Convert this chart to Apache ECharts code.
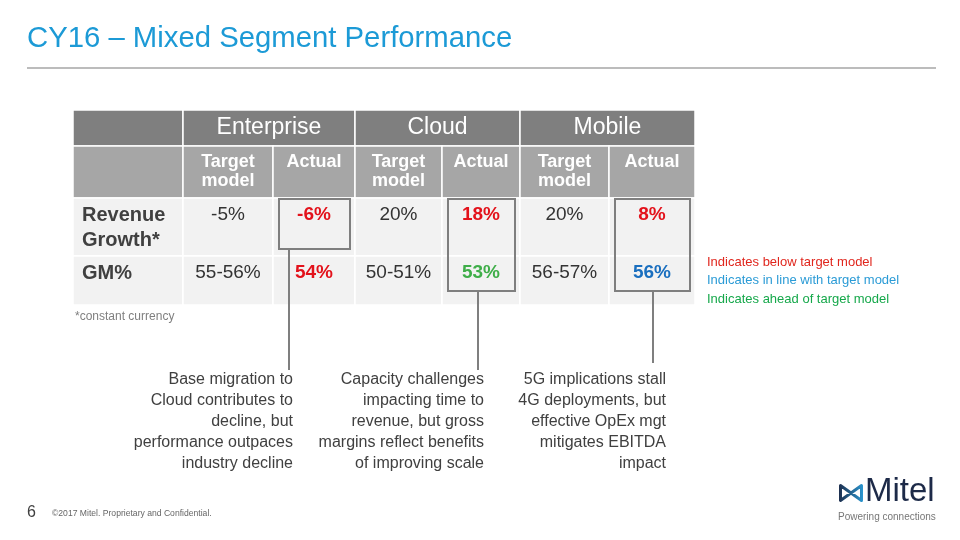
<!DOCTYPE html>
<html><head><meta charset="utf-8">
<script src="https://cdn.jsdelivr.net/npm/echarts@6/dist/echarts.min.js"></script>
<style>html,body{margin:0;padding:0;background:#fff}#c{width:960px;height:540px}</style>
</head><body><div id="c"></div>
<script>
// ---------- data ----------
const titleText = 'CY16 – Mixed Segment Performance';
const segments = ['Enterprise', 'Cloud', 'Mobile'];
const subHeaders = ['Target\nmodel', 'Actual'];
const metrics = ['Revenue\nGrowth*', 'GM%'];
const targetRevenue = ['-5%', '20%', '20%'];
const actualRevenue = ['-6%', '18%', '8%'];
const targetGM = ['55-56%', '50-51%', '56-57%'];
const actualGM = ['54%', '53%', '56%'];
const statusRevenue = ['below', 'below', 'below'];
const statusGM = ['below', 'ahead', 'inline'];
const highlightRows = [1, 2, 2];
const footnote = '*constant currency';
const legendOrder = ['below', 'inline', 'ahead'];
const legendLabels = ['Indicates below target model', 'Indicates in line with target model', 'Indicates ahead of target model'];
const callouts = [
  'Base migration to\nCloud contributes to\ndecline, but\nperformance outpaces\nindustry decline',
  'Capacity challenges\nimpacting time to\nrevenue, but gross\nmargins reflect benefits\nof improving scale',
  '5G implications stall\n4G deployments, but\neffective OpEx mgt\nmitigates EBITDA\nimpact'
];
const pageNumber = '6';
const copyright = '©2017 Mitel. Proprietary and Confidential.';
const brandName = 'Mitel';
const tagline = 'Powering connections';

// ---------- layout / style ----------
const FONT = '"Liberation Sans", Arial, Helvetica, sans-serif';
const colEdges = [73, 183, 273, 355, 442, 520, 609, 695];
const rowEdges = [110, 146, 198, 256, 305];
const calloutRight = [293, 484, 666];
const connectorX = [289, 478, 653];
const connectorEnd = [370, 370, 363];
const statusColor = { below: '#e3121b', inline: '#1a6fbf', ahead: '#3fae49' };
const legendColor = { below: '#e0261d', inline: '#2b9bd6', ahead: '#16a84b' };
const C = { dark: '#7f7f7f', mid: '#a6a6a6', light: '#f2f2f2', text: '#404040' };

// ---------- build table cells ----------
const cells = [];
cells.push({ c0: 0, c1: 1, r0: 0, r1: 1, fill: C.dark });
segments.forEach((s, i) => cells.push({ c0: 1 + 2 * i, c1: 3 + 2 * i, r0: 0, r1: 1, fill: C.dark, text: s, size: 23, weight: 'normal', color: '#fff', v: 'middle' }));
cells.push({ c0: 0, c1: 1, r0: 1, r1: 2, fill: C.mid });
segments.forEach((s, i) => subHeaders.forEach((h, j) => cells.push({ c0: 1 + 2 * i + j, c1: 2 + 2 * i + j, r0: 1, r1: 2, fill: C.mid, text: h, size: 18, weight: 'bold', color: '#fff', lh: 19, pad: 7 })));
const metricRows = [[targetRevenue, actualRevenue, statusRevenue], [targetGM, actualGM, statusGM]];
metricRows.forEach((r, k) => {
  cells.push({ c0: 0, c1: 1, r0: 2 + k, r1: 3 + k, fill: C.light, text: metrics[k], size: 20, weight: 'bold', color: C.text, align: 'left', lh: 25, pad: 4.5 });
  segments.forEach((s, i) => {
    cells.push({ c0: 1 + 2 * i, c1: 2 + 2 * i, r0: 2 + k, r1: 3 + k, fill: C.light, text: r[0][i], size: 19, weight: 'normal', color: '#333', lh: 22, pad: 6 });
    cells.push({ c0: 2 + 2 * i, c1: 3 + 2 * i, r0: 2 + k, r1: 3 + k, fill: C.light, text: r[1][i], size: 19, weight: 'bold', color: statusColor[r[2][i]], lh: 22, pad: 6 });
  });
});
const cellData = cells.map(c => [colEdges[c.c0], rowEdges[c.r0], colEdges[c.c1], rowEdges[c.r1]]);

const boxData = segments.map((s, i) => {
  const rows = highlightRows[i];
  return [colEdges[2 + 2 * i] + 6, rowEdges[2] + 1, colEdges[3 + 2 * i] - 5, rowEdges[2 + rows] - 7 * rows, connectorX[i], connectorEnd[i]];
});

function cellItem(params, api) {
  const c = cells[params.dataIndex];
  const p0 = api.coord([api.value(0), api.value(1)]);
  const p1 = api.coord([api.value(2), api.value(3)]);
  const children = [{
    type: 'rect',
    shape: { x: p0[0], y: p0[1], width: p1[0] - p0[0], height: p1[1] - p0[1] },
    style: { fill: c.fill, stroke: '#ffffff', lineWidth: 1.5 }
  }];
  if (c.text) {
    const left = c.align === 'left';
    children.push({
      type: 'text',
      x: left ? p0[0] + 9 : (p0[0] + p1[0]) / 2,
      y: c.v === 'middle' ? (p0[1] + p1[1]) / 2 : p0[1] + c.pad,
      style: {
        text: c.text, fill: c.color, fontSize: c.size, fontWeight: c.weight, fontFamily: FONT,
        align: left ? 'left' : 'center', verticalAlign: c.v === 'middle' ? 'middle' : 'top',
        lineHeight: c.lh || c.size
      }
    });
  }
  return { type: 'group', children };
}

function boxItem(params, api) {
  const p0 = api.coord([api.value(0), api.value(1)]);
  const p1 = api.coord([api.value(2), api.value(3)]);
  const pc = api.coord([api.value(4), api.value(5)]);
  return {
    type: 'group', children: [
      { type: 'rect', shape: { x: p0[0], y: p0[1], width: p1[0] - p0[0], height: p1[1] - p0[1] }, style: { fill: 'none', stroke: '#7f7f7f', lineWidth: 2 } },
      { type: 'line', shape: { x1: pc[0], y1: p1[1], x2: pc[0], y2: pc[1] }, style: { stroke: '#7f7f7f', lineWidth: 2 } }
    ]
  };
}

// ---------- graphics (texts) ----------
const logoGradient = { type: 'linear', x: 0, y: 0, x2: 1, y2: 0, colorStops: [{ offset: 0, color: '#1d2a48' }, { offset: 1, color: '#2b9bd6' }] };
const graphics = [
  { type: 'text', x: 27, y: 39, style: { text: titleText, fill: '#1c9ad6', fontSize: 29.3, fontFamily: FONT, verticalAlign: 'middle' } },
  { type: 'line', shape: { x1: 27, y1: 68, x2: 936, y2: 68 }, style: { stroke: '#a6a6a6', lineWidth: 1.5 } },
  { type: 'text', x: 75, y: 317, style: { text: footnote, fill: '#7f7f7f', fontSize: 12, fontFamily: FONT, verticalAlign: 'middle' } },
  { type: 'text', x: 27, y: 513, style: { text: pageNumber, fill: '#404040', fontSize: 16, fontFamily: FONT, verticalAlign: 'middle' } },
  { type: 'text', x: 52, y: 514, style: { text: copyright, fill: '#666666', fontSize: 8.6, fontFamily: FONT, verticalAlign: 'middle' } },
  { type: 'text', x: 865, y: 492, style: { text: brandName, fill: '#1d2a48', fontSize: 33, fontFamily: FONT, verticalAlign: 'middle' } },
  { type: 'text', x: 838, y: 517, style: { text: tagline, fill: '#777777', fontSize: 10, fontFamily: FONT, verticalAlign: 'middle' } },
  { type: 'polygon', shape: { points: [[840.5, 485.5], [851, 493], [861.5, 485.5], [861.5, 500.5], [851, 493], [840.5, 500.5]] },
    style: { fill: 'none', stroke: logoGradient, lineWidth: 3, lineJoin: 'round' } }
];
legendOrder.forEach((k, i) => graphics.push({ type: 'text', x: 707, y: 262 + i * 18.5, style: { text: legendLabels[i], fill: legendColor[k], fontSize: 13, fontFamily: FONT, verticalAlign: 'middle' } }));
callouts.forEach((t, i) => graphics.push({ type: 'text', x: calloutRight[i], y: 368.5, style: { text: t, fill: '#404040', fontSize: 16, fontFamily: FONT, align: 'right', verticalAlign: 'top', lineHeight: 21.2 } }));

const chart = echarts.init(document.getElementById('c'));
chart.setOption({
  animation: false,
  backgroundColor: '#ffffff',
  grid: { left: 0, right: 0, top: 0, bottom: 0 },
  xAxis: { type: 'value', min: 0, max: 960, show: false },
  yAxis: { type: 'value', min: 0, max: 540, inverse: true, show: false },
  series: [
    { type: 'custom', renderItem: cellItem, data: cellData, silent: true },
    { type: 'custom', renderItem: boxItem, data: boxData, silent: true, z: 3 }
  ],
  graphic: graphics
});
</script></body></html>
